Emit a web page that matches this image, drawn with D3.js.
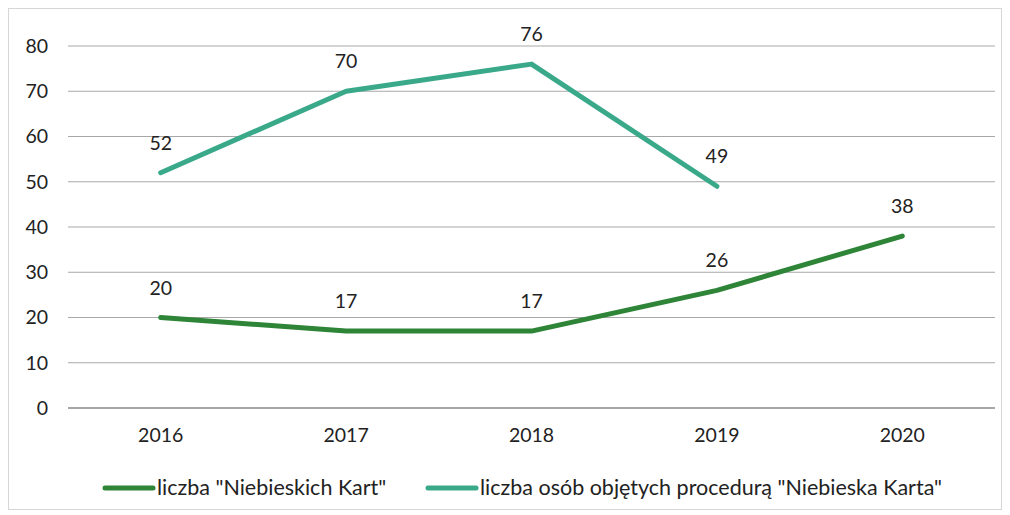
<!DOCTYPE html>
<html>
<head>
<meta charset="utf-8">
<script src="https://cdn.jsdelivr.net/npm/d3@7"></script>
<style>
  body { margin: 0; background: #fff; }
  text { font-family: Lato, "Open Sans", sans-serif; fill: #222; }
</style>
</head>
<body>
<div class="visContainer"></div>
<script>
// Chart data.
const years = ['2016', '2017', '2018', '2019', '2020'];
const karty = [20, 17, 17, 26, 38];
const osoby = [52, 70, 76, 49, null];
const yTicks = [0, 10, 20, 30, 40, 50, 60, 70, 80];
const seriesNames = ['liczba "Niebieskich Kart"', 'liczba osób objętych procedurą "Niebieska Karta"'];
const colors = ['#2e8437', '#3aa98a'];

// SVG constants.
const width = 1010;
const height = 515;
const plotLeft = 68, plotRight = 995, plotTop = 46, plotBottom = 408;
const fontSize = '19.5px';

const svg = d3.select('.visContainer')
              .append('svg')
              .attr('width', width)
              .attr('height', height);

// Frame.
svg.append('rect')
   .attr('x', 8.5).attr('y', 8.5)
   .attr('width', width - 17).attr('height', height - 14)
   .attr('fill', 'none').attr('stroke', '#d6d6d6');

const x = d3.scaleBand().domain(years).range([plotLeft, plotRight]);
const y = d3.scaleLinear().domain([0, 80]).range([plotBottom, plotTop]);

// Gridlines.
svg.append('g')
   .selectAll('line')
   .data(yTicks)
   .join('line')
   .attr('x1', plotLeft).attr('x2', plotRight)
   .attr('y1', d => y(d)).attr('y2', d => y(d))
   .attr('stroke', d => d === 0 ? '#8a8a8a' : '#a8a8a8')
   .attr('stroke-width', d => d === 0 ? 1.3 : 1);

// Y axis labels.
const yAxis = svg.append('g')
   .attr('transform', `translate(${plotLeft - 20},0)`)
   .call(d3.axisLeft(y).tickValues(yTicks).tickSize(0).tickPadding(0));
yAxis.select('.domain').remove();
yAxis.selectAll('text').attr('font-size', fontSize).attr('fill', '#222');

// X axis labels.
const xAxis = svg.append('g')
   .attr('transform', `translate(0,${plotBottom + 18})`)
   .call(d3.axisBottom(x).tickSize(0).tickPadding(2));
xAxis.select('.domain').remove();
xAxis.selectAll('text').attr('font-size', fontSize).attr('fill', '#222');

// Lines.
const cx = d => x(d) + x.bandwidth() / 2;
const line = d3.line()
   .defined(d => d[1] != null)
   .x(d => cx(d[0]))
   .y(d => y(d[1]));

[karty, osoby].forEach((vals, i) => {
  const pts = years.map((yr, j) => [yr, vals[j]]);
  svg.append('path')
     .datum(pts)
     .attr('d', line)
     .attr('fill', 'none')
     .attr('stroke', colors[i])
     .attr('stroke-width', 5)
     .attr('stroke-linejoin', 'round')
     .attr('stroke-linecap', 'round');

  svg.append('g')
     .selectAll('text')
     .data(pts.filter(d => d[1] != null))
     .join('text')
     .attr('x', d => cx(d[0]))
     .attr('y', d => y(d[1]) - 23)
     .attr('text-anchor', 'middle')
     .attr('font-size', fontSize)
     .text(d => d[1]);
});

// Legend.
const legendX = [105, 428];
seriesNames.forEach((name, i) => {
  const g = svg.append('g').attr('transform', `translate(${legendX[i]},488)`);
  g.append('line')
   .attr('x1', 0).attr('x2', 48)
   .attr('stroke', colors[i]).attr('stroke-width', 5)
   .attr('stroke-linecap', 'round');
  g.append('text')
   .attr('x', 52).attr('y', 7)
   .attr('font-size', '21.5px')
   .text(name);
});
</script>
</body>
</html>
